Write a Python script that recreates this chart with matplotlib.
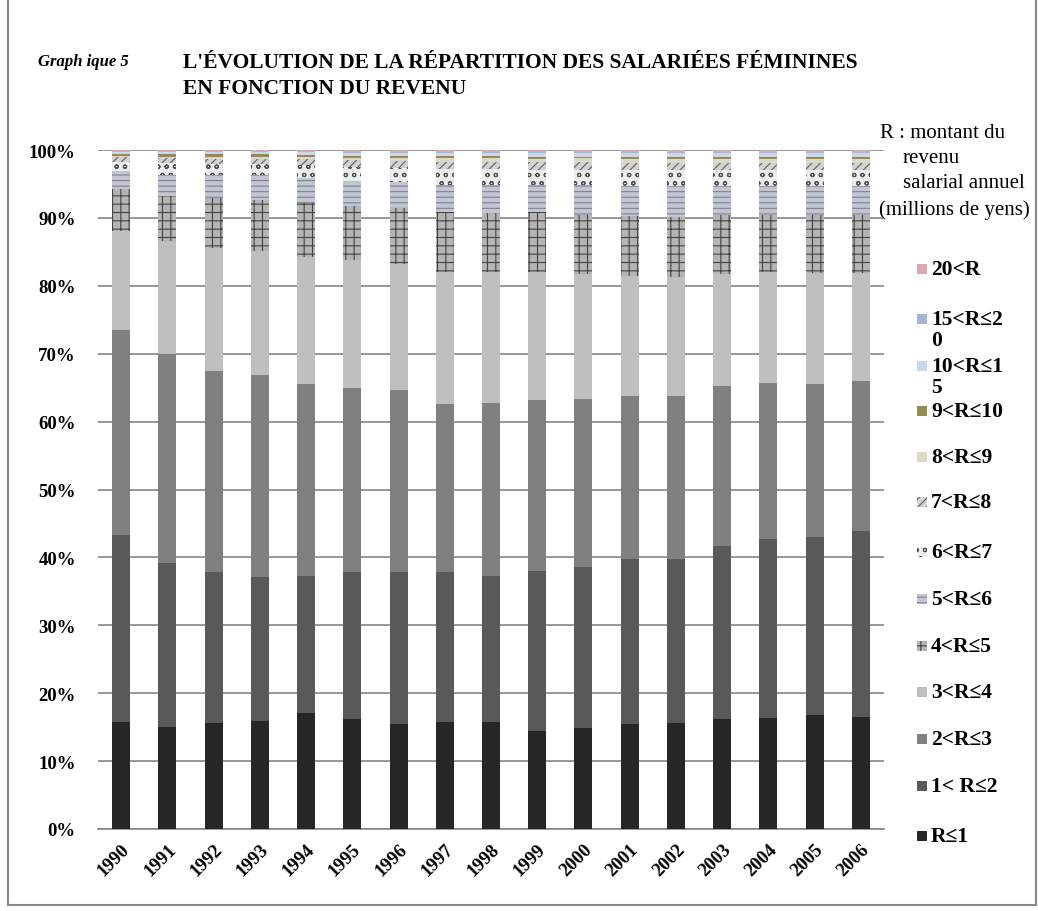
import numpy as np
import matplotlib
matplotlib.use("Agg")
import matplotlib.pyplot as plt
from matplotlib.patches import Rectangle
from matplotlib.lines import Line2D

annees = [str(a) for a in range(1990, 2007)]

# parts (%) par tranche de revenu
r_0_1 = [15.8, 15.0, 15.6, 15.8, 17.0, 16.2, 15.5, 15.8, 15.7, 14.4, 14.9, 15.5, 15.6, 16.2, 16.4, 16.8, 16.5]
r_1_2 = [27.5, 24.0, 22.1, 21.2, 20.2, 21.6, 22.3, 22.0, 21.5, 23.6, 23.7, 24.3, 24.2, 25.5, 26.2, 26.2, 27.4]
r_2_3 = [30.2, 30.8, 29.6, 29.6, 28.1, 27.0, 26.7, 24.7, 25.5, 25.2, 24.7, 23.9, 24.0, 23.5, 23.0, 22.6, 22.1]
r_3_4 = [14.5, 16.5, 18.0, 18.2, 18.6, 18.8, 18.5, 19.4, 19.3, 18.9, 18.3, 17.7, 17.4, 16.4, 16.3, 16.3, 15.9]
r_4_5 = [6.3, 6.7, 7.3, 7.5, 7.9, 8.0, 8.2, 8.9, 8.7, 8.8, 8.8, 8.8, 8.9, 8.8, 8.4, 8.5, 8.5]
r_5_6 = [2.6, 3.0, 3.4, 3.7, 3.8, 3.6, 3.8, 4.0, 4.1, 3.9, 4.3, 4.5, 4.6, 4.2, 4.3, 4.3, 4.3]
r_6_7 = [1.3, 1.8, 1.6, 1.6, 1.9, 2.1, 2.1, 2.3, 2.3, 2.3, 2.3, 2.3, 2.3, 2.3, 2.3, 2.3, 2.3]
r_7_8 = [0.7, 0.7, 0.8, 0.8, 0.8, 1.0, 1.1, 1.1, 1.1, 1.1, 1.1, 1.1, 1.1, 1.1, 1.1, 1.1, 1.1]
r_8_9 = [0.15, 0.2, 0.25, 0.25, 0.3, 0.35, 0.4, 0.45, 0.5, 0.5, 0.55, 0.55, 0.55, 0.6, 0.6, 0.6, 0.6]
r_9_10 = [0.4, 0.4, 0.4, 0.4, 0.35, 0.3, 0.3, 0.3, 0.3, 0.3, 0.25, 0.25, 0.25, 0.25, 0.25, 0.25, 0.25]
r_10_15 = [0.2, 0.25, 0.3, 0.3, 0.35, 0.4, 0.45, 0.5, 0.5, 0.55, 0.55, 0.6, 0.6, 0.6, 0.6, 0.6, 0.6]
r_15_20 = [0.1, 0.1, 0.1, 0.1, 0.1, 0.12, 0.12, 0.15, 0.15, 0.15, 0.15, 0.15, 0.15, 0.15, 0.15, 0.15, 0.15]
r_20 = [0.25, 0.25, 0.25, 0.25, 0.25, 0.3, 0.3, 0.3, 0.3, 0.3, 0.3, 0.3, 0.3, 0.3, 0.3, 0.3, 0.3]

series = [r_0_1, r_1_2, r_2_3, r_3_4, r_4_5, r_5_6, r_6_7, r_7_8,
          r_8_9, r_9_10, r_10_15, r_15_20, r_20]
etiquettes = ["R≤1", "1< R≤2", "2<R≤3", "3<R≤4", "4<R≤5", "5<R≤6", "6<R≤7",
              "7<R≤8", "8<R≤9", "9<R≤10", "10<R≤1\n5", "15<R≤2\n0", "20<R"]

# (couleur de fond, hachure, couleur des hachures)
styles = [
    ("#262626", None, None),
    ("#595959", None, None),
    ("#808080", None, None),
    ("#bfbfbf", None, None),
    ("#b4b4b4", "++", "#444444"),
    ("#c3c6d2", "---", "#7b8197"),
    ("#ececec", "oo", "#505050"),
    ("#d2d2d2", "////", "#606060"),
    ("#ddd9c3", None, None),
    ("#948a54", None, None),
    ("#c6d9f0", None, None),
    ("#a6b5d6", None, None),
    ("#dba7aa", None, None),
]

plt.rcParams["font.family"] = ["Liberation Serif", "DejaVu Serif"]
plt.rcParams["hatch.linewidth"] = 0.8

data = np.array(series, dtype=float)
data = data / data.sum(axis=0) * 100  # graphique en 100 %

fig = plt.figure(figsize=(10.38, 9.12), dpi=100)
ax = fig.add_axes([98 / 1038, 82 / 912, 786 / 1038, 679 / 912])

x = np.arange(len(annees))
bas = np.zeros(len(annees))
for vals, (fc, hatch, hc) in zip(data, styles):
    ax.bar(x, vals, bottom=bas, width=0.39, color=fc, hatch=hatch,
           edgecolor=hc if hc else fc, linewidth=0, zorder=3)
    bas += vals

ax.set_xlim(-0.5, len(annees) - 0.5)
ax.set_ylim(0, 100)
ax.set_yticks(np.arange(0, 101, 10))
ax.set_yticklabels([f"{v}%" for v in range(0, 101, 10)], fontsize=13.5, fontweight="bold")
ax.set_xticks(x)
ax.set_xticklabels(annees, rotation=45, ha="right", rotation_mode="anchor",
                   fontsize=13.5, fontweight="bold")
ax.tick_params(axis="y", length=0, pad=16)
ax.tick_params(axis="x", length=0, pad=8)
ax.grid(axis="y", color="#868686", linewidth=1.2, zorder=0)
for s in ["top", "right", "left"]:
    ax.spines[s].set_visible(False)
ax.spines["bottom"].set_color("#868686")
ax.spines["bottom"].set_linewidth(1.2)

# titres
fig.text(38 / 1038, 1 - 62 / 912, "Graph ique 5", fontsize=12, fontweight="bold",
         fontstyle="italic", va="center")
fig.text(183 / 1038, 1 - 63 / 912, "L'ÉVOLUTION DE LA RÉPARTITION DES SALARIÉES FÉMININES",
         fontsize=15.5, fontweight="bold", va="center")
fig.text(183 / 1038, 1 - 89 / 912, "EN FONCTION DU REVENU",
         fontsize=15.5, fontweight="bold", va="center")

# titre de la légende
fig.text(880 / 1038, 1 - 134 / 912, "R : montant du", fontsize=15, va="center")
fig.text(903 / 1038, 1 - 159 / 912, "revenu", fontsize=15, va="center")
fig.text(903 / 1038, 1 - 184 / 912, "salarial annuel", fontsize=15, va="center")
fig.text(879 / 1038, 1 - 210 / 912, "(millions de yens)", fontsize=15, va="center")

# légende (de haut en bas)
y_leg = [270, 320, 367, 412, 458, 503, 553, 600, 647, 693, 740, 787, 837]
ordre = list(range(len(series)))[::-1]
for yy, i in zip(y_leg, ordre):
    fc, hatch, hc = styles[i]
    fig.add_artist(Rectangle((917 / 1038, 1 - (yy + 5) / 912), 10 / 1038, 10 / 912,
                             transform=fig.transFigure, facecolor=fc, hatch=hatch,
                             edgecolor=hc if hc else fc, linewidth=0))
    lignes = etiquettes[i].split("\n")
    for j, t in enumerate(lignes):
        fig.text(931 / 1038, 1 - (yy + 21 * j) / 912, t, fontsize=15.5,
                 fontweight="bold", va="center")

# cadre
for xs, ys in [([8, 8], [0, 906]), ([1036, 1036], [0, 906]), ([8, 1036], [906, 906])]:
    fig.add_artist(Line2D([v / 1038 for v in xs], [1 - v / 912 for v in ys],
                          transform=fig.transFigure, color="#888888", linewidth=1.5))

fig.savefig("out.png", dpi=100, facecolor="white")
